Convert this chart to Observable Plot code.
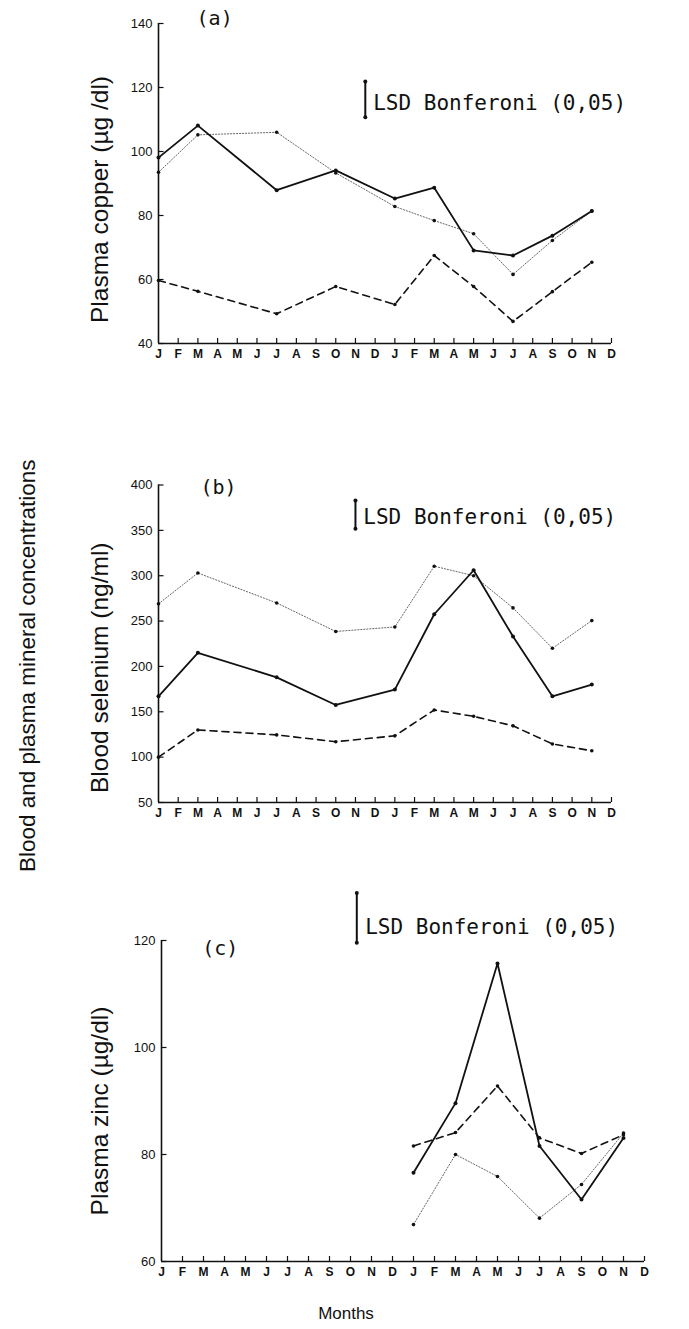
<!DOCTYPE html>
<html>
<head>
<meta charset="utf-8">
<script src="https://cdn.jsdelivr.net/npm/d3@7"></script>
<script src="https://cdn.jsdelivr.net/npm/@observablehq/plot@0.6"></script>
<style>
  html, body { margin: 0; padding: 0; background: #fff; }
  #wrap { position: relative; width: 689px; height: 1329px; overflow: hidden; }
  #wrap svg { position: absolute; left: 0; overflow: visible; }
</style>
</head>
<body>
<div id="wrap"></div>
<script>
// ---------- data ----------
const monthLabels = ["J","F","M","A","M","J","J","A","S","O","N","D","J","F","M","A","M","J","J","A","S","O","N","D"];
const sampleIdx = [0, 2, 6, 9, 12, 14, 16, 18, 20, 22];
const zincIdx = [12, 14, 16, 18, 20, 22];

const copperSolid  = [98.1, 108.1, 87.9, 94.1, 85.3, 88.7, 69.1, 67.5, 73.7, 81.4];
const copperDotted = [93.5, 105.2, 106.0, 93.3, 82.8, 78.4, 74.3, 61.6, 72.2, 81.4];
const copperDashed = [59.7, 56.3, 49.3, 57.8, 52.2, 67.5, 57.8, 46.9, 56.2, 65.4];

const seleniumSolid  = [167, 215, 188, 157.5, 174.5, 257.5, 306, 233, 167, 180];
const seleniumDotted = [269, 303, 270, 238.5, 243.5, 310.5, 300, 264.5, 220, 250.5];
const seleniumDashed = [100, 130, 124.5, 117, 123.5, 152, 145, 134.5, 114.5, 107];

const zincSolid  = [76.6, 89.6, 115.7, 81.6, 71.6, 83.1];
const zincDashed = [81.6, 84.1, 92.8, 83.1, 80.2, 83.7];
const zincDotted = [66.9, 80.0, 75.9, 68.1, 74.4, 84.0];

const copperTicks = [40, 60, 80, 100, 120, 140];
const seleniumTicks = [50, 100, 150, 200, 250, 300, 350, 400];
const zincTicks = [60, 80, 100, 120];

// LSD bars: [month position, low, high, label level]
const lsdA = [10.5, 110.7, 121.9, 115];
const lsdB = [10.0, 351.7, 382.9, 364];
const lsdC = [9.3, 119.6, 128.9, 122.4];
const lsdText = "LSD Bonferoni (0,05)";

const panelLabels = ["(a)", "(b)", "(c)"];
const titles = ["Plasma copper (\u00b5g /dl)", "Blood selenium (ng/ml)", "Plasma zinc (\u00b5g/dl)"];
const outerTitle = "Blood and plasma mineral concentrations";
const xTitle = "Months";

// ---------- drawing ----------
const SANS = "Liberation Sans, Arial, Helvetica, sans-serif";
const MONO = "DejaVu Sans Mono, monospace";

function series(idx, vals) { return idx.map((m, i) => ({m, v: vals[i]})); }

function panel(cfg) {
  const [y0, y1] = cfg.domain;
  const innerH = cfg.height - cfg.marginTop - cfg.marginBottom;
  const tickLen = 5 * (y1 - y0) / innerH;
  const innerW = 689 - cfg.marginLeft - cfg.marginRight;
  const xTickLen = 5.5 * 23 / innerW;
  const solid = series(cfg.idx, cfg.solid);
  const dotted = series(cfg.idx, cfg.dotted);
  const dashed = series(cfg.idx, cfg.dashed);
  const [lx, llo, lhi, ly] = cfg.lsd;
  const marks = [
    // axes lines
    Plot.ruleX([0], {y1: y0, y2: y1, stroke: "#111", strokeWidth: 1.6}),
    Plot.ruleY([y0], {x1: 0, x2: 23, stroke: "#111", strokeWidth: 1.6}),
    // inward ticks
    Plot.ruleY(cfg.ticks, {x1: 0, x2: xTickLen, stroke: "#111", strokeWidth: 1.2}),
    Plot.ruleX(d3.range(1, 24), {x: d => d, y1: y0, y2: y0 + tickLen, stroke: "#111", strokeWidth: 1.2}),
    Plot.axisY(cfg.ticks, {tickSize: 0, tickPadding: 6, fontSize: 13, fontFamily: SANS, fill: "#111", label: null}),
    Plot.axisX(d3.range(24), {tickSize: 0, tickPadding: 6, fontSize: 12, fontWeight: "bold", fontFamily: SANS, fill: "#111", tickFormat: i => monthLabels[i], label: null}),
    // series
    Plot.line(dotted, {x: "m", y: "v", stroke: "#555", strokeWidth: 0.9, strokeDasharray: "1.2,1.8"}),
    Plot.line(dashed, {x: "m", y: "v", stroke: "#111", strokeWidth: 1.6, strokeDasharray: "7,5"}),
    Plot.line(solid, {x: "m", y: "v", stroke: "#111", strokeWidth: 1.8}),
    Plot.dot(dotted, {x: "m", y: "v", r: 1.8, fill: "#111"}),
    Plot.dot(dashed, {x: "m", y: "v", r: 1.8, fill: "#111"}),
    Plot.dot(solid, {x: "m", y: "v", r: 2, fill: "#111"}),
    // LSD bar
    Plot.ruleX([lx], {y1: llo, y2: lhi, stroke: "#111", strokeWidth: 2}),
    Plot.dot([llo, lhi], {x: () => lx, y: d => d, r: 2, fill: "#111"}),
    Plot.text([lsdText], {x: lx + 0.4, y: ly, textAnchor: "start", fontSize: 21, fontFamily: MONO, fill: "#111"}),
    // panel letter
    Plot.text([cfg.letter], {x: cfg.letterPos[0], y: cfg.letterPos[1], fontSize: 20, fontFamily: MONO, fill: "#111"}),
    // y title
    Plot.text([cfg.title], {frameAnchor: "left", textAnchor: "middle", lineAnchor: "middle", dx: 100 - cfg.marginLeft, dy: cfg.titleShift, rotate: -90, fontSize: 24.5, fontFamily: SANS, fill: "#111"})
  ];
  if (cfg.extra) marks.push(...cfg.extra);
  const svg = Plot.plot({
    width: 689,
    height: cfg.height,
    marginTop: cfg.marginTop,
    marginBottom: cfg.marginBottom,
    marginLeft: cfg.marginLeft,
    marginRight: cfg.marginRight,
    x: {domain: [0, 23], axis: null, label: null},
    y: {domain: cfg.domain, axis: null, label: null},
    style: {background: "transparent", overflow: "visible"},
    marks
  });
  svg.style.top = cfg.top + "px";
  document.getElementById("wrap").appendChild(svg);
}

panel({
  top: 0, height: 370, marginTop: 23, marginBottom: 27, marginLeft: 158, marginRight: 78,
  domain: [40, 140], ticks: copperTicks, idx: sampleIdx,
  solid: copperSolid, dotted: copperDotted, dashed: copperDashed,
  lsd: lsdA, letter: panelLabels[0], letterPos: [2.85, 141.5], title: titles[0], titleShift: 16
});

panel({
  top: 370, height: 500, marginTop: 114.5, marginBottom: 68, marginLeft: 158, marginRight: 78,
  domain: [50, 400], ticks: seleniumTicks, idx: sampleIdx,
  solid: seleniumSolid, dotted: seleniumDotted, dashed: seleniumDashed,
  lsd: lsdB, letter: panelLabels[1], letterPos: [3.05, 397], title: titles[1], titleShift: 24,
  extra: [
    Plot.text([outerTitle], {frameAnchor: "left", textAnchor: "middle", lineAnchor: "middle", dx: 27 - 158, dy: 22, rotate: -90, fontSize: 22.5, fontFamily: SANS, fill: "#111"})
  ]
});

panel({
  top: 870, height: 459, marginTop: 70, marginBottom: 68, marginLeft: 161, marginRight: 45,
  domain: [60, 120], ticks: zincTicks, idx: zincIdx,
  solid: zincSolid, dotted: zincDotted, dashed: zincDashed,
  lsd: lsdC, letter: panelLabels[2], letterPos: [2.8, 118.5], title: titles[2], titleShift: 10,
  extra: [
    Plot.text([xTitle], {frameAnchor: "bottom", textAnchor: "middle", lineAnchor: "middle", dx: -57, dy: 52, fontSize: 17, fontFamily: SANS, fill: "#111"})
  ]
});
</script>
</body>
</html>
